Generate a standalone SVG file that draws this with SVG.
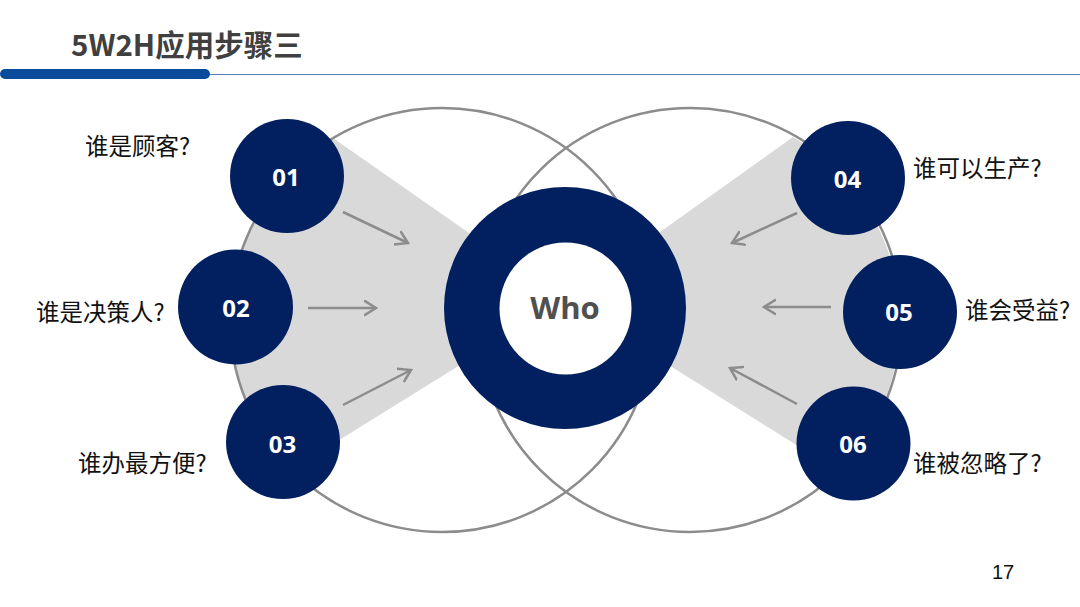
<svg xmlns="http://www.w3.org/2000/svg" width="1080" height="607" viewBox="0 0 1080 607">
<style>
.title{font-family:"Noto Sans CJK SC",sans-serif;font-weight:700;font-size:29.5px;fill:#404040}
.lbl{font-family:"Noto Sans CJK SC",sans-serif;font-size:23.5px;fill:#111}
.num{font-family:"Open Sans",sans-serif;font-weight:700;font-size:24px;fill:#fff;text-anchor:middle}
.who{font-family:"Open Sans",sans-serif;font-weight:700;font-size:31px;fill:#505050;text-anchor:middle}
.pg{font-family:"Liberation Sans",Arial,sans-serif;font-size:20px;fill:#111}
.wedge{fill:#d9d9d9}
.big{fill:none;stroke:#8c8c8c;stroke-width:2.5}
.arr{fill:none;stroke:#8c8c8c;stroke-width:2.5;marker-end:url(#ah)}
.dot{fill:#02205f}
</style>
<defs>
<marker id="ah" markerUnits="userSpaceOnUse" markerWidth="16" markerHeight="18" refX="12" refY="8.5" orient="auto">
<path d="M0,1 L12,8.5 L0,16" fill="none" stroke="#8c8c8c" stroke-width="2.5"/>
</marker>
</defs>
<rect width="1080" height="607" fill="#fff"/>
<g id="header">
<text class="title" x="71" y="56">5W2H应用步骤三</text>
<line x1="200" y1="74.5" x2="1080" y2="74.5" stroke="#5a7db5" stroke-width="1.2"/>
<rect x="0" y="69" width="210" height="10" rx="5" fill="#0b4b9b"/>
</g>
<g id="background">
<path class="wedge" d="M565,300 L333,138 A212,212 0 0 0 291,470 Z"/>
<path class="wedge" d="M565,300 L793,137 A212,212 0 0 1 838,471 Z"/>
<circle class="big" cx="442" cy="320" r="212"/>
<circle class="big" cx="690" cy="320" r="212"/>
</g>
<g id="connectors">
<line class="arr" x1="343" y1="212" x2="408" y2="243"/>
<line class="arr" x1="308" y1="308" x2="376" y2="308"/>
<line class="arr" x1="343" y1="405" x2="411" y2="370"/>
<line class="arr" x1="797" y1="213" x2="732" y2="243"/>
<line class="arr" x1="831" y1="307" x2="764" y2="307"/>
<line class="arr" x1="797" y1="404" x2="730" y2="368"/>
</g>
<g id="who">
<circle cx="565" cy="308" r="121" fill="#02205f"/>
<circle cx="565.5" cy="308.5" r="66" fill="#fff"/>
<text class="who" x="565" y="319">Who</text>
</g>
<g id="n01"><circle class="dot" cx="287" cy="176" r="57"/><text class="num" x="286" y="186">01</text><text class="lbl" x="85" y="155">谁是顾客?</text></g>
<g id="n02"><circle class="dot" cx="235.5" cy="307" r="57.5"/><text class="num" x="236" y="317">02</text><text class="lbl" x="36" y="321">谁是决策人?</text></g>
<g id="n03"><circle class="dot" cx="283" cy="442" r="57"/><text class="num" x="282.5" y="452.5">03</text><text class="lbl" x="78" y="472">谁办最方便?</text></g>
<g id="n04"><circle class="dot" cx="848" cy="178" r="57"/><text class="num" x="847.5" y="188">04</text><text class="lbl" x="913" y="177">谁可以生产?</text></g>
<g id="n05"><circle class="dot" cx="900" cy="312" r="57"/><text class="num" x="899" y="321">05</text><text class="lbl" x="965" y="319">谁会受益?</text></g>
<g id="n06"><circle class="dot" cx="853.5" cy="443.5" r="57"/><text class="num" x="853" y="453">06</text><text class="lbl" x="913" y="472">谁被忽略了?</text></g>
<text class="pg" x="992" y="579">17</text>
</svg>
